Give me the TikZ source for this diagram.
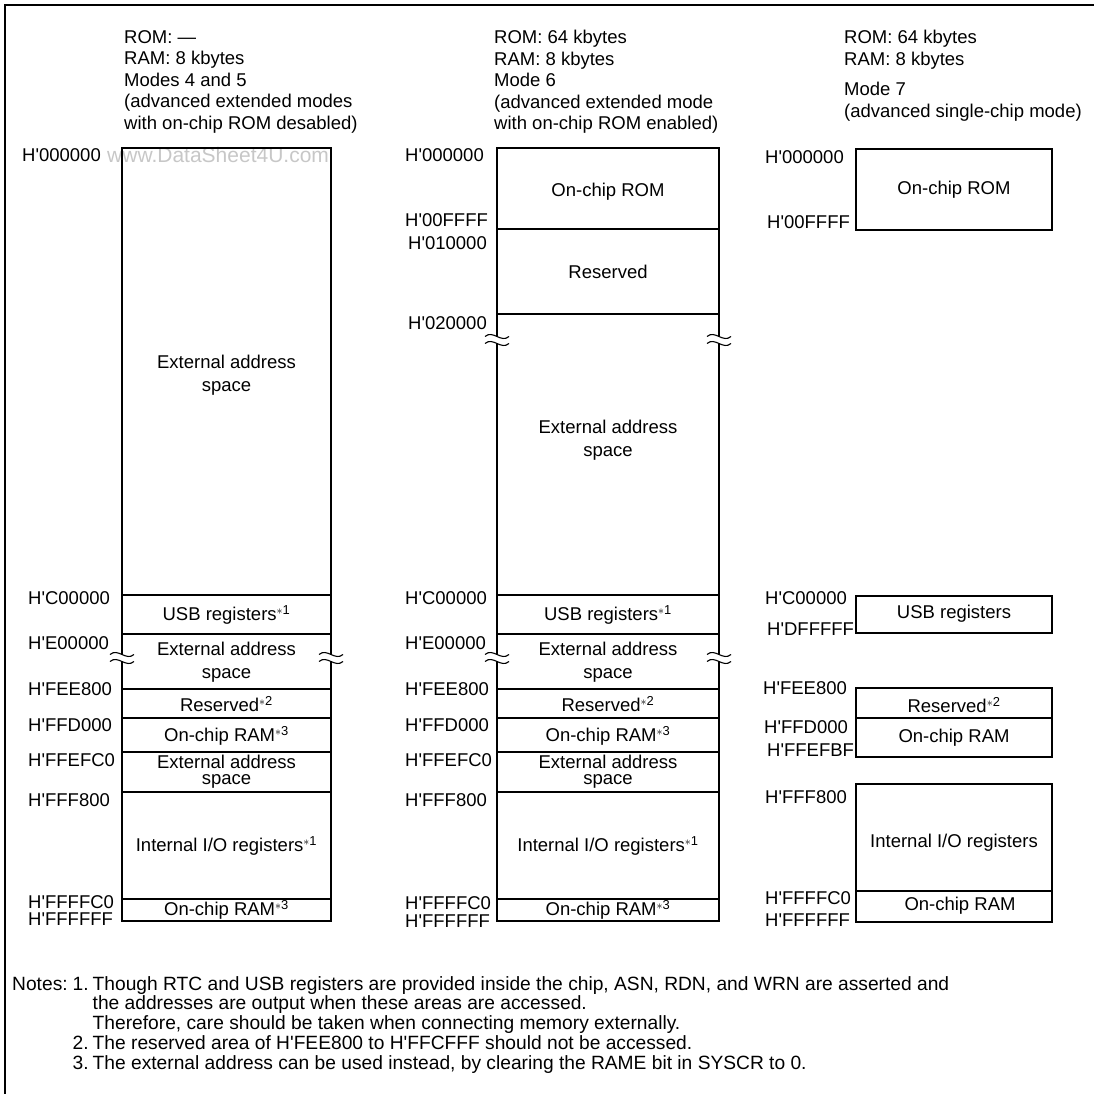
\documentclass[tikz,border=0pt]{standalone}
\usepackage{fontspec}
\setmainfont{Liberation Sans}[Ligatures=TeXOff]
\usetikzlibrary{positioning}
\newcommand{\fnref}[1]{\textsuperscript{$\ast$#1}}

\begin{document}
\begin{tikzpicture}[x=1pt,y=-1pt,
  box/.style={line width=1.8pt},
  txt/.style={font=\fontsize{18.5}{22.5}\selectfont,align=center,inner sep=0pt},
  tight/.style={txt,font=\fontsize{18.5}{16}\selectfont},
  addr/.style={font=\fontsize{18.5}{22}\selectfont,anchor=west,inner sep=0pt},
  head/.style={font=\fontsize{18.5}{21.5}\selectfont,align=left,anchor=north west,inner sep=0pt},
  wavebrk/.pic={
    \fill[white] (-12,-3.5) .. controls (-4,-10.5) and (4,3.5) .. (12,-3.5)
      -- (12,3.5) .. controls (4,10.5) and (-4,-3.5) .. (-12,3.5) -- cycle;
    \draw[line width=1.1pt] (-12,-3.5) .. controls (-4,-10.5) and (4,3.5) .. (12,-3.5);
    \draw[line width=1.1pt] (-12,3.5) .. controls (-4,-3.5) and (4,10.5) .. (12,3.5);
  }]
\useasboundingbox (0,0) rectangle (1094,1094);
\draw[box] (5,1094) -- (5,5) -- (1094,5);

\node[anchor=west,inner sep=0pt,text=black!22,font=\fontsize{21}{21}\selectfont] (wmark) at (107,155) {www.DataSheet4U.com};

% headers
\node[head] (h1) at (124,30) {ROM: —\\RAM: 8 kbytes\\Modes 4 and 5\\(advanced extended modes\\with on-chip ROM desabled)};
\node[head] (h2) at (494,30) {ROM: 64 kbytes\\RAM: 8 kbytes\\Mode 6\\(advanced extended mode\\with on-chip ROM enabled)};
\node[head] (h3) at (844,30) {ROM: 64 kbytes\\RAM: 8 kbytes};
\node[head,below=13pt of h3.south west,anchor=north west] (h3m) {Mode 7\\(advanced single-chip mode)};

% modes 4 and 5
\draw[box] (122,148) rectangle (331,921);
\draw[box] (122,595) -- (331,595) (122,634) -- (331,634) (122,689) -- (331,689)
  (122,718) -- (331,718) (122,752) -- (331,752) (122,792) -- (331,792) (122,899) -- (331,899);
\node[txt] (ext1) at (226.5,375) {External address\\space};
\node[txt] (usb1) at (226.5,615) {USB registers\fnref{1}};
\node[txt] (exte1) at (226.5,662) {External address\\space};
\node[txt] (res1) at (226.5,704) {Reserved\fnref{2}};
\node[txt] (ram1) at (226.5,736) {On-chip RAM\fnref{3}};
\node[tight] (extf1) at (226.5,772) {External address\\space};
\node[txt] (io1) at (226.5,846) {Internal I/O registers\fnref{1}};
\node[txt] (ramb1) at (226.5,910) {On-chip RAM\fnref{3}};
\node[addr] (a1s) at (22,155) {H'000000};
\node[addr] (a1c) at (28,598) {H'C00000};
\node[addr] (a1e) at (28,643) {H'E00000};
\node[addr] (a1fee) at (28,689) {H'FEE800};
\node[addr] (a1ffd) at (28,725) {H'FFD000};
\node[addr] (a1ffe) at (28,760) {H'FFEFC0};
\node[addr] (a1fff) at (28,800) {H'FFF800};
\node[addr] (a1ffc) at (28,902) {H'FFFFC0};
\node[addr] (a1end) at (28,919) {H'FFFFFF};
\pic at (122,658) {wavebrk};
\pic at (331,658) {wavebrk};

% mode 6
\draw[box] (497,148) rectangle (719,921);
\draw[box] (497,229) -- (719,229) (497,314) -- (719,314) (497,595) -- (719,595)
  (497,634) -- (719,634) (497,689) -- (719,689) (497,718) -- (719,718)
  (497,752) -- (719,752) (497,792) -- (719,792) (497,899) -- (719,899);
\node[txt] (rom2) at (608,192) {On-chip ROM};
\node[txt] (resa2) at (608,272) {Reserved};
\node[txt] (ext2) at (608,440) {External address\\space};
\node[txt] (usb2) at (608,615) {USB registers\fnref{1}};
\node[txt] (exte2) at (608,662) {External address\\space};
\node[txt] (res2) at (608,704) {Reserved\fnref{2}};
\node[txt] (ram2) at (608,736) {On-chip RAM\fnref{3}};
\node[tight] (extf2) at (608,772) {External address\\space};
\node[txt] (io2) at (608,846) {Internal I/O registers\fnref{1}};
\node[txt] (ramb2) at (608,910) {On-chip RAM\fnref{3}};
\node[addr] (a2s) at (405,155) {H'000000};
\node[addr] (a2rom) at (405,220) {H'00FFFF};
\node[addr] (a2res) at (408,243) {H'010000};
\node[addr] (a2ext) at (408,323) {H'020000};
\node[addr] (a2c) at (405,598) {H'C00000};
\node[addr] (a2e) at (405,643) {H'E00000};
\node[addr] (a2fee) at (405,689) {H'FEE800};
\node[addr] (a2ffd) at (405,725) {H'FFD000};
\node[addr] (a2ffe) at (405,760) {H'FFEFC0};
\node[addr] (a2fff) at (405,800) {H'FFF800};
\node[addr] (a2ffc) at (405,903) {H'FFFFC0};
\node[addr] (a2end) at (405,921) {H'FFFFFF};
\pic at (497,340) {wavebrk};
\pic at (719,340) {wavebrk};
\pic at (497,658) {wavebrk};
\pic at (719,658) {wavebrk};

% mode 7
\draw[box] (856,149) rectangle (1052,230);
\draw[box] (856,596) rectangle (1052,633);
\draw[box] (856,688) rectangle (1052,757) (856,718) -- (1052,718);
\draw[box] (856,784) rectangle (1052,922) (856,891) -- (1052,891);
\node[txt] (rom3) at (954,190) {On-chip ROM};
\node[txt] (usb3) at (954,614) {USB registers};
\node[txt] (res3) at (954,705) {Reserved\fnref{2}};
\node[txt] (ram3) at (954,738) {On-chip RAM};
\node[txt] (io3) at (954,843) {Internal I/O registers};
\node[txt] (ramb3) at (960,906) {On-chip RAM};
\node[addr] (a3s) at (765,157) {H'000000};
\node[addr] (a3rom) at (767,222) {H'00FFFF};
\node[addr] (a3c) at (765,598) {H'C00000};
\node[addr] (a3usb) at (767,629) {H'DFFFFF};
\node[addr] (a3fee) at (763,688) {H'FEE800};
\node[addr] (a3ffd) at (764,727) {H'FFD000};
\node[addr] (a3ram) at (767,750) {H'FFEFBF};
\node[addr] (a3fff) at (765,797) {H'FFF800};
\node[addr] (a3ffc) at (765,898) {H'FFFFC0};
\node[addr] (a3end) at (765,920) {H'FFFFFF};

% notes
\node[anchor=north west,inner sep=0pt,font=\fontsize{19.2}{19.5}\selectfont] (notes) at (12,976) {%
\begin{tabular}{@{}l@{\hspace{5pt}}l@{\hspace{4pt}}l@{}}
Notes: & 1. & Though RTC and USB registers are provided inside the chip, ASN, RDN, and WRN are asserted and\\
& & the addresses are output when these areas are accessed.\\
& & Therefore, care should be taken when connecting memory externally.\\
& 2. & The reserved area of H'FEE800 to H'FFCFFF should not be accessed.\\
& 3. & The external address can be used instead, by clearing the RAME bit in SYSCR to 0.
\end{tabular}};
\end{tikzpicture}
\end{document}
